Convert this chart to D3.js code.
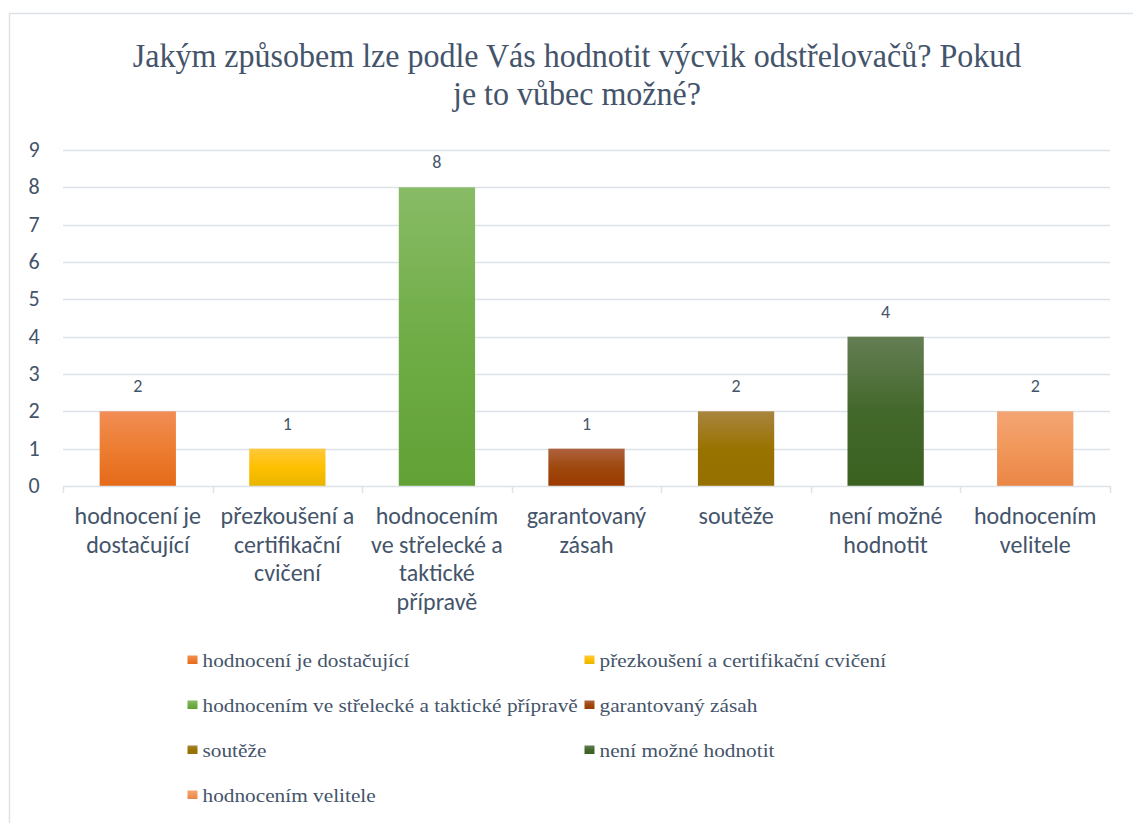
<!DOCTYPE html>
<html><head><meta charset="utf-8">
<script src="https://cdn.jsdelivr.net/npm/d3@7"></script>
<style>body{margin:0;background:#fff;}svg{display:block;}</style>
</head><body>
<svg id="c" width="1133" height="823"></svg>
<script>
const titleLines = ["Jakým způsobem lze podle Vás hodnotit výcvik odstřelovačů? Pokud", "je to vůbec možné?"];
const categories = ["hodnocení je dostačující","přezkoušení a certifikační cvičení","hodnocením ve střelecké a taktické přípravě","garantovaný zásah","soutěže","není možné hodnotit","hodnocením velitele"];
const values = [2,1,8,1,2,4,2];
const axisLabelLines = [["hodnocení je","dostačující"],["přezkoušení a","certifikační","cvičení"],["hodnocením","ve střelecké a","taktické","přípravě"],["garantovaný","zásah"],["soutěže"],["není možné","hodnotit"],["hodnocením","velitele"]];
const yTicks = [0,1,2,3,4,5,6,7,8,9];
const colorsTop = ["#F18D55","#FFC83C","#88BB66","#B0623F","#A98540","#647E54","#F4A574"];
const colorsBase = ["#ED7D31","#FFC000","#70AD47","#9E480E","#997300","#43682B","#F1975A"];
const colorsBottom = ["#E56A19","#E8B500","#61A135","#9C3A00","#967000","#3A6120","#EA8646"];

const svg = d3.select("#c");
const textColor = "#44546A";
const gridColor = "#DEE2E8";
const sans = "Carlito, Lato, sans-serif";
const serif = "\"Liberation Serif\", Tinos, serif";

// frame
svg.append("rect").attr("x",9.5).attr("y",13.5).attr("width",1150).attr("height",850)
  .attr("fill","none").attr("stroke","#DCE1E8").attr("stroke-width",1.5);

// title (condensed to match reference width)
const tg = svg.append("g");
const tt = tg.append("text").attr("text-anchor","middle").attr("fill",textColor)
  .style("font-family",serif).style("font-size","33px");
tt.selectAll("tspan").data(titleLines).join("tspan")
  .attr("x",0).attr("y",(d,i)=>67+i*38).text(d=>d);
const l1 = tt.select("tspan").node().getComputedTextLength();
const kT = 889 / l1;
tg.attr("transform",`translate(577,0) scale(${kT},1)`);

const x = d3.scaleBand().domain(categories).range([63,1110]).paddingInner(0.49).paddingOuter(0.245);
const y = d3.scaleLinear().domain([0,9]).range([486,150]);

// gradients
const defs = svg.append("defs");
categories.forEach((c,i)=>{
  const g = defs.append("linearGradient").attr("id","g"+i).attr("x1",0).attr("x2",0).attr("y1",0).attr("y2",1);
  g.append("stop").attr("offset","0%").attr("stop-color",colorsTop[i]);
  g.append("stop").attr("offset","50%").attr("stop-color",colorsBase[i]);
  g.append("stop").attr("offset","100%").attr("stop-color",colorsBottom[i]);
});

// grid
svg.append("g").selectAll("line").data(yTicks.slice(1)).join("line")
  .attr("x1",63).attr("x2",1110).attr("y1",d=>Math.round(y(d))+0.5).attr("y2",d=>Math.round(y(d))+0.5)
  .attr("stroke",gridColor).attr("stroke-width",1.5);

// y labels
svg.append("g").selectAll("text").data(yTicks).join("text")
  .attr("x",34).attr("y",d=>y(d)).attr("dy","0.32em").attr("text-anchor","middle")
  .attr("fill",textColor).style("font-family",sans).style("font-size","22px").text(d=>d);

// bars
svg.append("g").selectAll("rect").data(values).join("rect")
  .attr("x",(d,i)=>x(categories[i])).attr("width",x.bandwidth())
  .attr("y",d=>y(d)).attr("height",d=>y(0)-y(d))
  .attr("fill",(d,i)=>`url(#g${i})`);

// x axis line & ticks
svg.append("line").attr("x1",63).attr("x2",1110).attr("y1",486.5).attr("y2",486.5).attr("stroke",gridColor).attr("stroke-width",1.5);
const edges = categories.map(c=>x(c)-x.step()*x.paddingInner()/2).concat([1110]);
edges[0]=63;
svg.append("g").selectAll("line").data(edges).join("line")
  .attr("x1",d=>Math.round(d)+0.5).attr("x2",d=>Math.round(d)+0.5).attr("y1",486).attr("y2",493)
  .attr("stroke",gridColor).attr("stroke-width",1.5);

// data labels
svg.append("g").selectAll("text").data(values).join("text")
  .attr("x",(d,i)=>x(categories[i])+x.bandwidth()/2).attr("y",d=>y(d)-19)
  .attr("text-anchor","middle").attr("fill",textColor).style("font-family",sans).style("font-size","18px").text(d=>d);

// category labels
const cl = svg.append("g").selectAll("text").data(categories).join("text")
  .attr("text-anchor","middle").attr("fill",textColor).style("font-family",sans).style("font-size","24px");
cl.each(function(c,i){
  d3.select(this).selectAll("tspan").data(axisLabelLines[i]).join("tspan")
    .attr("x",x(c)+x.bandwidth()/2).attr("y",(d,j)=>524+j*28.5).text(d=>d);
});

// legend (serif, stretched to match reference width)
const leg = svg.append("g");
const legTexts = [];
categories.forEach((c,i)=>{
  const col = i%2, row = Math.floor(i/2);
  const lx = col===0?187.5:584.5, ly = 660+row*45;
  leg.append("rect").attr("x",lx).attr("y",ly-4.5).attr("width",10).attr("height",8.5).attr("fill",`url(#g${i})`);
  const g = leg.append("g").attr("transform",`translate(${lx+15},${ly+6.5})`);
  const t = g.append("text").attr("x",0).attr("y",0).attr("fill",textColor)
    .style("font-family",serif).style("font-size","18.5px").text(c);
  legTexts.push([g,t]);
});
const kL = 207 / legTexts[0][1].node().getComputedTextLength();
legTexts.forEach(([g,t])=>{ g.attr("transform", g.attr("transform")+` scale(${kL},1)`); });
</script>
</body></html>
